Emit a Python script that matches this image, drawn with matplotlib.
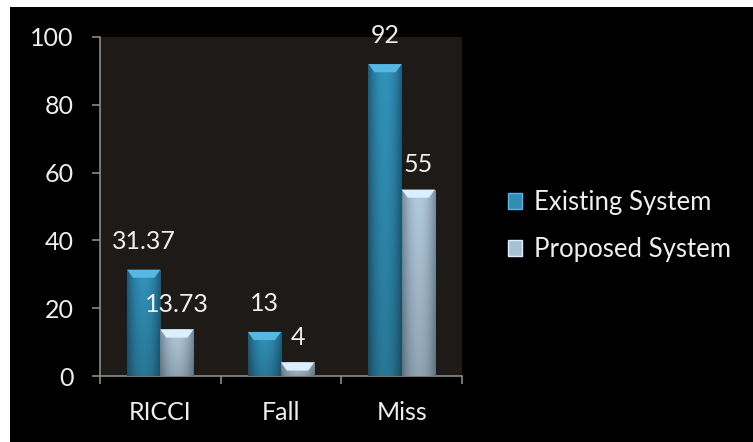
import matplotlib.pyplot as plt
import numpy as np
from matplotlib.patches import Patch, Polygon, Rectangle

plt.rcParams['font.family'] = ['Lato', 'DejaVu Sans']

categories = ['RICCI', 'Fall', 'Miss']
existing = [31.37, 13, 92]
proposed = [13.73, 4, 55]
existing_labels = ['31.37', '13', '92']
proposed_labels = ['13.73', '4', '55']
series_names = ['Existing System', 'Proposed System']

fig = plt.figure(figsize=(7.53, 4.42), dpi=100)
fig.patch.set_facecolor('white')
# black slide background with a thin white margin top/left
fig.add_artist(Rectangle((10 / 753, 0), 1, 1 - 7 / 442, transform=fig.transFigure,
                         facecolor='black', edgecolor='none', zorder=-10))

ax = fig.add_axes([100 / 753, 66 / 442, 362 / 753, 339 / 442])
ax.set_facecolor('#1e1a18')

x = np.arange(len(categories))
w = 0.275


def grad_bar(ax, xc, h, edge, mid, cap):
    # main bar with horizontal shading
    r = ax.bar(xc, h, w, color=mid, edgecolor='none', zorder=2)[0]
    edge = np.array(plt.matplotlib.colors.to_rgb(edge))
    mid = np.array(plt.matplotlib.colors.to_rgb(mid))
    t = np.linspace(-1, 1, 64)
    s = 1 - np.abs(t) ** 2
    row = edge[None, :] + (mid - edge)[None, :] * s[:, None]
    v = np.linspace(0.85, 1.05, 32)[:, None, None]
    img = np.clip(row[None, :, :] * v, 0, 1)
    im = ax.imshow(img, extent=(xc - w / 2, xc + w / 2, 0, h), origin='lower',
                   aspect='auto', zorder=3, interpolation='bilinear')
    im.set_clip_path(r)
    # bevelled top cap
    d = 2.4
    ax.add_patch(Polygon([(xc - w / 2, h), (xc + w / 2, h), (xc + w / 2 - w * 0.18, h - d),
                          (xc - w / 2 + w * 0.18, h - d)], closed=True,
                         facecolor=cap, edgecolor='none', zorder=4))
    return r


for i in range(len(categories)):
    grad_bar(ax, x[i] - w / 2, existing[i], '#1c5872', '#2f8cb2', '#56b8e2')
    grad_bar(ax, x[i] + w / 2, proposed[i], '#6f8393', '#a9c1d3', '#dcefff')
    ax.annotate(existing_labels[i], (x[i] - w / 2, existing[i]), xytext=(0, 12),
                textcoords='offset points', ha='center', va='bottom',
                color='#eeeeee', fontsize=18)
    ax.annotate(proposed_labels[i], (x[i] + w / 2, proposed[i]), xytext=(0, 10),
                textcoords='offset points', ha='center', va='bottom',
                color='#eeeeee', fontsize=18)

ax.set_xlim(-0.5, len(categories) - 0.5)
ax.set_ylim(0, 100)
ax.set_yticks(np.arange(0, 101, 20))
ax.set_xticks(x)
ax.set_xticklabels(categories)
ax.set_xticks(np.arange(-0.5, len(categories), 1), minor=True)

for side in ['top', 'right']:
    ax.spines[side].set_visible(False)
for side in ['left', 'bottom']:
    ax.spines[side].set_color('#8a8a8a')
    ax.spines[side].set_linewidth(1.2)

ax.tick_params(axis='y', colors='#8a8a8a', labelcolor='#eeeeee', labelsize=18,
               length=6, width=1.2, pad=13)
ax.tick_params(axis='x', which='major', length=0, labelcolor='#eeeeee',
               labelsize=18, pad=18)
ax.tick_params(axis='x', which='minor', colors='#8a8a8a', length=6, width=1.2)

handles = [Patch(facecolor='#2f8cb2', edgecolor='#56b8e2'),
           Patch(facecolor='#a9c1d3', edgecolor='#dcefff')]
leg = fig.legend(handles, series_names, loc='center left',
                 bbox_to_anchor=(485 / 753, 1 - 226 / 442), frameon=False,
                 fontsize=18.5, labelcolor='#eeeeee', handlelength=0.55,
                 handleheight=0.55, handletextpad=0.45, labelspacing=0.85)

fig.savefig('out.png', dpi=100, facecolor=fig.get_facecolor())
